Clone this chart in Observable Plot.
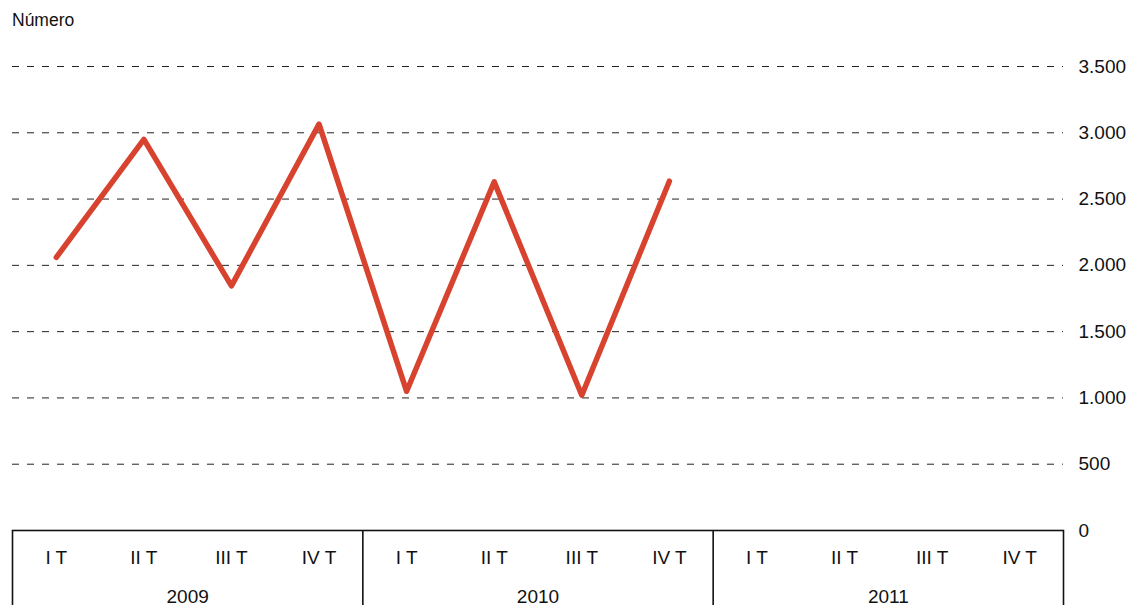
<!DOCTYPE html>
<html>
<head>
<meta charset="utf-8">
<script src="https://cdn.jsdelivr.net/npm/d3@7"></script>
<script src="https://cdn.jsdelivr.net/npm/@observablehq/plot@0.6"></script>
<style>
  html, body { margin: 0; padding: 0; background: #fff; overflow: hidden; width: 1131px; height: 605px; }
  #wrap { position: relative; width: 1131px; height: 605px; font-family: "Liberation Sans", Arial, sans-serif; }
  #title { position: absolute; left: 12px; top: 1px; font-size: 17.5px; line-height: 38px; color: #111; }
  #chartTop { position: absolute; left: 0; top: 40px; z-index: 2; }
  #chartBottom { position: absolute; left: 0; top: 529px; z-index: 1; }
  svg { overflow: visible; }
</style>
</head>
<body>
<div id="wrap">
  <div id="title">Número</div>
  <div id="chartTop"></div>
  <div id="chartBottom"></div>
</div>
<script>
// ---- data ----
const years = ["2009", "2010", "2011"];
const quarters = ["I T", "II T", "III T", "IV T"];
// values for 2009 I T ... 2010 IV T (2011 has no data)
const values = [2060, 2950, 1845, 3065, 1050, 2630, 1020, 2635];
const yTicks = [0, 500, 1000, 1500, 2000, 2500, 3000, 3500];

// ---- derived tables ----
const nQ = years.length * quarters.length;
const series = values.map((v, i) => ({x: i + 0.5, y: v}));
const quarterCells = years.flatMap((yr, yi) =>
  quarters.map((q, qi) => ({x: yi * quarters.length + qi + 0.5, label: q})));
const yearCells = years.map((yr, yi) => ({x: yi * quarters.length + quarters.length / 2, label: yr}));
const yearBounds = years.slice(1).map((yr, yi) => (yi + 1) * quarters.length);

const fmt = d3.formatLocale({decimal: ",", thousands: ".", grouping: [3], currency: ["", " €"]}).format(",");

const common = {
  width: 1131,
  marginLeft: 12,
  marginRight: 68,
  style: {fontFamily: '"Liberation Sans", Arial, sans-serif', fontSize: "19px", color: "#111", background: "none", overflow: "visible"},
  x: {domain: [0, nQ], axis: null}
};

const plotTop = Plot.plot({
  ...common,
  height: 490,
  marginTop: 26,
  marginBottom: 0,
  y: {domain: [0, 3500], axis: null},
  marks: [
    Plot.ruleY(yTicks.filter(d => d > 0), {stroke: "#222", strokeWidth: 1, strokeDasharray: "7,8"}),
    Plot.line(series, {x: "x", y: "y", stroke: "#d8432f", strokeWidth: 5.5, strokeLinecap: "round", strokeLinejoin: "round"}),
    Plot.axisY(yTicks, {anchor: "right", label: null, tickSize: 0, tickPadding: 15, tickFormat: fmt, fontSize: 19, fill: "#111"})
  ]
});
document.getElementById("chartTop").appendChild(plotTop);

const plotBottom = Plot.plot({
  ...common,
  height: 80,
  marginTop: 1,
  marginBottom: 0,
  marks: [
    Plot.frame({stroke: "#111", strokeWidth: 1.6}),
    Plot.ruleX(yearBounds, {stroke: "#111", strokeWidth: 1.6}),
    Plot.text(quarterCells, {x: "x", text: "label", frameAnchor: "top", lineAnchor: "middle", dy: 27, fontSize: 19, fill: "#111"}),
    Plot.text(yearCells, {x: "x", text: "label", frameAnchor: "top", lineAnchor: "middle", dy: 66.5, fontSize: 19, fill: "#111"})
  ]
});
document.getElementById("chartBottom").appendChild(plotBottom);
</script>
</body>
</html>
